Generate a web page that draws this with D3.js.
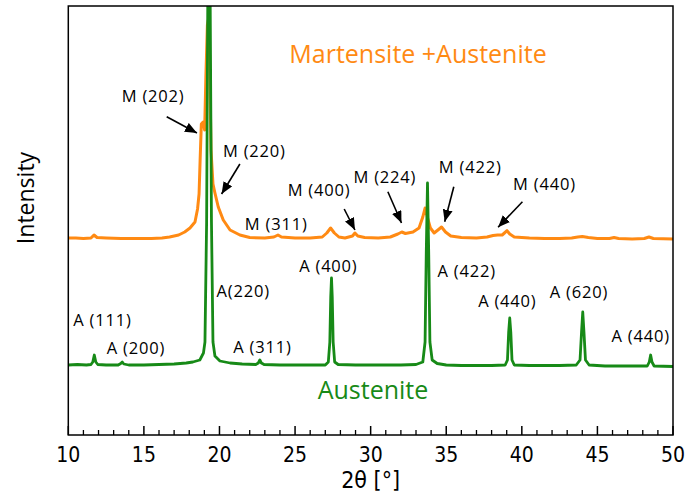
<!DOCTYPE html>
<html>
<head>
<meta charset="utf-8">
<script src="https://cdn.jsdelivr.net/npm/d3@7"></script>
<style>
  html, body { margin: 0; padding: 0; background: #fff; }
  svg { display: block; }
  .tick-label { font-family: "DejaVu Sans Condensed", "DejaVu Sans"; font-stretch: condensed; }
  .lbl { font-family: "Open Sans", "Noto Sans", sans-serif; }
</style>
</head>
<body>
<script>
// ---- Data (intensity in arbitrary units) ----
const xTicks = [10, 15, 20, 25, 30, 35, 40, 45, 50];

// Austenite pattern: [2theta, intensity]
const austenite = [
  [10.0,57],[10.6,57.5],[11.2,57],[11.5,57.5],[11.62,60],[11.72,67],[11.82,60],[11.95,57.5],
  [12.5,57],[13.3,57],[13.47,58.5],[13.57,60],[13.67,58],[14.0,57],[15.0,57],[16.0,57.5],
  [17.0,58],[17.8,59],[18.24,60],[18.7,62],[18.94,69],[19.04,80],[19.15,200],[19.24,460],
  [19.37,460],[19.47,200],[19.57,80],[19.7,66],[20.03,61],[20.7,59],[21.5,58],[22.4,57.5],
  [22.57,59],[22.67,62],[22.77,59],[22.95,57.5],[24.0,57],[25.0,57],[26.0,57],[27.0,57],
  [27.2,60],[27.3,80],[27.36,125],[27.41,144],[27.46,125],[27.52,80],[27.62,60],[27.85,57.5],
  [29,57],[30,57],[31,57],[32,57],[33,57.5],[33.45,60],[33.6,80],[33.68,170],[33.76,239],
  [33.84,170],[33.92,80],[34.07,62],[34.4,58.5],[35,57],[36,56.5],[37,56.5],[38,56.5],
  [38.9,57],[39.05,62],[39.13,90],[39.2,104],[39.27,90],[39.35,62],[39.5,57],[40.5,56.5],
  [41.5,56.5],[42.5,56.5],[43.6,57],[43.85,62],[43.95,90],[44.03,110],[44.11,90],[44.21,62],
  [44.45,57],[45.5,56],[46.5,56],[47.5,56],[48.3,56],[48.43,60],[48.52,67],[48.61,60],
  [48.75,56],[50,55.5]
];

// Martensite + Austenite pattern: [2theta, intensity]
const martensite = [
  [10.0,184],[10.5,184],[11.0,183.5],[11.5,184],[11.7,187],[11.9,184.5],[12.5,184],[13.5,183.5],
  [14.5,183.5],[15.5,183.5],[16.2,184],[16.7,185],[17.3,187],[17.7,190],[18.05,194],[18.38,200],
  [18.55,213],[18.65,228],[18.72,262],[18.8,298],[18.92,300],[19.02,292],[19.1,345],[19.2,397],
  [19.26,402],[19.34,372],[19.44,272],[19.57,238],[19.7,229],[19.92,215],[20.25,202],[20.7,192],
  [21.35,187],[22,184.5],[23,184],[23.6,185],[23.87,187],[24.1,185],[25,184],[26,184],
  [26.8,185],[27.1,189],[27.35,194],[27.6,189],[27.9,185],[28.3,184],[28.8,186],[28.96,189],
  [29.15,186],[29.6,184.5],[30.5,184],[31.3,185],[31.8,188],[32.06,190],[32.3,188.5],[32.8,190],
  [33.2,194],[33.45,205],[33.6,214],[33.75,205],[33.95,194],[34.2,189],[34.45,192],[34.69,195],
  [34.95,190],[35.3,186],[36,184.5],[37,184],[37.7,185],[38.1,186.5],[38.4,187],[38.7,187],
  [38.85,189],[39.02,191.3],[39.2,188],[39.5,185],[40.5,184],[41.5,183.5],[42.5,183.5],[43.3,184],
  [43.7,185],[44.0,185.5],[44.4,184.5],[45,183.5],[45.8,183.5],[46.1,184.5],[46.4,183.5],[47.3,183],
  [48.1,183.5],[48.41,185],[48.7,183.5],[50,183]
];

// Peak labels: text, anchor (2theta, intensity)
const peakLabels = [
  ["M (202)", 13.53, 320.3], ["M (220)", 20.23, 265.3], ["M (311)", 21.68, 192],
  ["M (400)", 24.51, 226], ["M (224)", 28.86, 239.3], ["M (422)", 34.51, 249.3],
  ["M (440)", 39.42, 232],
  ["A (111)", 10.33, 96], ["A (200)", 12.54, 67.7], ["A(220)", 19.81, 125.3],
  ["A (311)", 20.91, 69.3], ["A (400)", 25.27, 150.3], ["A (422)", 34.42, 145.3],
  ["A (440)", 37.11, 115.3], ["A (620)", 41.85, 123.7], ["A (440)", 45.93, 80.3]
];

// Arrows: from (2theta, intensity) to (2theta, intensity)
const arrows = [
  [16.51, 305.3, 18.51, 289],
  [21.35, 258, 20.14, 228],
  [28.25, 213, 28.96, 192],
  [31.14, 230.3, 32.04, 199],
  [35.5, 235.3, 34.9, 200.3],
  [40.04, 220.3, 38.43, 194.7]
];

// ---- Layout ----
const W = 691, H = 495;
const plot = { left: 68.3, right: 673, top: 6, bottom: 435 };
const ORANGE = "#ff8a13", GREEN = "#178a17";

const svg = d3.select("body").append("svg").attr("width", W).attr("height", H);

const x = d3.scaleLinear().domain([10, 50]).range([plot.left, plot.right]);
const y = d3.scaleLinear().domain([-13, 416]).range([plot.bottom, plot.top]);

const defs = svg.append("defs");
defs.append("clipPath").attr("id", "clip").append("rect")
  .attr("x", plot.left).attr("y", plot.top)
  .attr("width", plot.right - plot.left).attr("height", plot.bottom - plot.top);
defs.append("marker").attr("id", "ah").attr("viewBox", "0 0 12 10")
  .attr("refX", 12).attr("refY", 5).attr("markerWidth", 12).attr("markerHeight", 10)
  .attr("markerUnits", "userSpaceOnUse").attr("orient", "auto")
  .append("path").attr("d", "M0,0 L12,5 L0,10 Z").attr("fill", "#000");

const line = d3.line().x(d => x(d[0])).y(d => y(d[1]));

const g = svg.append("g").attr("clip-path", "url(#clip)");
g.append("path").datum(martensite).attr("d", line)
  .attr("fill", "none").attr("stroke", ORANGE).attr("stroke-width", 3).attr("stroke-linejoin", "round");
g.append("path").datum(austenite).attr("d", line)
  .attr("fill", "none").attr("stroke", GREEN).attr("stroke-width", 2.8).attr("stroke-linejoin", "round");

// frame
svg.append("rect").attr("x", plot.left).attr("y", plot.top)
  .attr("width", plot.right - plot.left).attr("height", plot.bottom - plot.top)
  .attr("fill", "none").attr("stroke", "#000").attr("stroke-width", 1.5);

// bottom axis: inward ticks
const minor = d3.range(11, 50, 1).filter(v => v % 5 !== 0);
svg.append("g").selectAll("line.minor").data(minor).join("line")
  .attr("x1", d => x(d)).attr("x2", d => x(d))
  .attr("y1", plot.bottom).attr("y2", plot.bottom - 5)
  .attr("stroke", "#000").attr("stroke-width", 1.3);
svg.append("g").selectAll("line.major").data(xTicks).join("line")
  .attr("x1", d => x(d)).attr("x2", d => x(d))
  .attr("y1", plot.bottom).attr("y2", plot.bottom - 9)
  .attr("stroke", "#000").attr("stroke-width", 1.5);
svg.append("g").selectAll("text").data(xTicks).join("text")
  .attr("class", "tick-label")
  .attr("x", d => x(d)).attr("y", 462)
  .attr("text-anchor", "middle").attr("font-size", 21).attr("fill", "#000")
  .text(d => d);

// axis titles
svg.append("text").attr("class", "tick-label")
  .attr("x", (plot.left + plot.right) / 2).attr("y", 488)
  .attr("text-anchor", "middle").attr("font-size", 23).attr("fill", "#000")
  .text("2θ [°]");
svg.append("text").attr("class", "lbl")
  .attr("transform", `translate(34,198) rotate(-90)`)
  .attr("text-anchor", "middle").attr("font-size", 23).attr("fill", "#000")
  .text("Intensity");

// series titles
svg.append("text").attr("class", "lbl")
  .attr("x", 418).attr("y", 63).attr("text-anchor", "middle")
  .attr("font-size", 25).attr("fill", ORANGE).text("Martensite +Austenite");
svg.append("text").attr("class", "lbl")
  .attr("x", 373).attr("y", 399).attr("text-anchor", "middle")
  .attr("font-size", 25).attr("fill", GREEN).text("Austenite");

// peak labels
svg.append("g").selectAll("text").data(peakLabels).join("text")
  .attr("class", "lbl")
  .attr("x", d => x(d[1])).attr("y", d => y(d[2]))
  .attr("font-size", 16.5).attr("letter-spacing", 0.8).attr("fill", "#000")
  .text(d => d[0]);

// arrows
svg.append("g").selectAll("line").data(arrows).join("line")
  .attr("x1", d => x(d[0])).attr("y1", d => y(d[1]))
  .attr("x2", d => x(d[2])).attr("y2", d => y(d[3]))
  .attr("stroke", "#000").attr("stroke-width", 1.6)
  .attr("marker-end", "url(#ah)");
</script>
</body>
</html>
